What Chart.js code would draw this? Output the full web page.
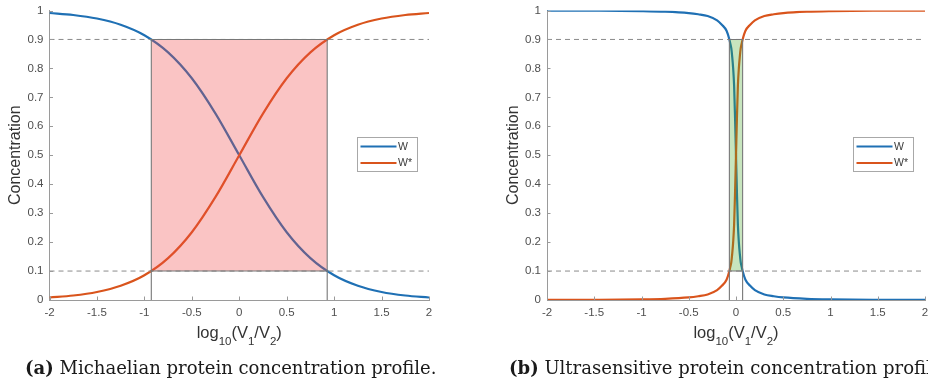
<!DOCTYPE html>
<html><head><meta charset="utf-8">
<script src="https://cdn.jsdelivr.net/npm/chart.js@4/dist/chart.umd.min.js"></script>
<style>
html,body{margin:0;padding:0;background:#fff;width:928px;height:387px;overflow:hidden}
#wrap{position:relative;width:928px;height:387px;overflow:hidden}
canvas{position:absolute;top:0}
#ca{left:0}
#cb{left:460px}
.cap{position:absolute;top:359px;font-family:"DejaVu Serif","Liberation Serif",serif;font-size:17px;white-space:nowrap;color:#1a1a1a;line-height:1}
</style></head><body>
<div id="wrap">
<canvas id="ca" width="460" height="387"></canvas>
<canvas id="cb" width="468" height="387"></canvas>
<div class="cap" id="capA" style="left:25px"><b>(a)</b> Michaelian protein concentration profile.</div>
<div class="cap" id="capB" style="left:509px"><b>(b)</b> Ultrasensitive protein concentration profile.</div>
</div>
<script>
// ---------- data ----------
const xTickValues = [-2, -1.5, -1, -0.5, 0, 0.5, 1, 1.5, 2];
const xTickLabels = ['-2', '-1.5', '-1', '-0.5', '0', '0.5', '1', '1.5', '2'];
const yTickValues = [0, 0.1, 0.2, 0.3, 0.4, 0.5, 0.6, 0.7, 0.8, 0.9, 1];
const yTickLabels = ['0', '0.1', '0.2', '0.3', '0.4', '0.5', '0.6', '0.7', '0.8', '0.9', '1'];
const seriesLabels = ['W', 'W*'];
const levels = [0.1, 0.9];

// (a) Michaelian
const xA = [-2, -1.75, -1.5, -1.25, -1, -0.75, -0.5, -0.25, 0, 0.25, 0.5, 0.75, 1, 1.25, 1.5, 1.75, 2];
const wA = [0.9914, 0.9845, 0.9723, 0.9509, 0.9147, 0.8555, 0.766, 0.644, 0.5, 0.356, 0.234, 0.1445, 0.0853, 0.0491, 0.0277, 0.0155, 0.0086];
const wStarA = [0.0086, 0.0155, 0.0277, 0.0491, 0.0853, 0.1445, 0.234, 0.356, 0.5, 0.644, 0.766, 0.8555, 0.9147, 0.9509, 0.9723, 0.9845, 0.9914];
const bandA = [-0.927, 0.927];

// (b) Ultrasensitive
const xB = [-2, -1.5, -1, -0.75, -0.5, -0.4, -0.3, -0.2, -0.15, -0.1, -0.07, -0.06, -0.05, -0.04, -0.03, -0.02, -0.01, 0, 0.01, 0.02, 0.03, 0.04, 0.05, 0.06, 0.07, 0.1, 0.15, 0.2, 0.3, 0.4, 0.5, 0.75, 1, 1.5, 2];
const wB = [0.9998, 0.9993, 0.9978, 0.9958, 0.991, 0.987, 0.981, 0.966, 0.951, 0.93, 0.9, 0.885, 0.87, 0.84, 0.8, 0.74, 0.63, 0.5, 0.37, 0.26, 0.2, 0.16, 0.13, 0.115, 0.1, 0.07, 0.049, 0.034, 0.019, 0.013, 0.009, 0.0042, 0.0022, 0.0007, 0.0002];
const wStarB = [0.0002, 0.0007, 0.0022, 0.0042, 0.009, 0.013, 0.019, 0.034, 0.049, 0.07, 0.1, 0.115, 0.13, 0.16, 0.2, 0.26, 0.37, 0.5, 0.63, 0.74, 0.8, 0.84, 0.87, 0.885, 0.9, 0.93, 0.951, 0.966, 0.981, 0.987, 0.991, 0.9958, 0.9978, 0.9993, 0.9998];
const bandB = [-0.07, 0.07];

// ---------- styles ----------
const BLUE = '#1f70b4';
const ORANGE = '#d9541c';
const EDGE = '#777777';
const DASH = '#8a8a8a';
const AXIS = '#9a9a9a';
const TICKTXT = '#4f4f4f';
const SANS = '"Liberation Sans", Arial, Helvetica, sans-serif';

const pts = (xs, ys) => xs.map((x, i) => ({x: x, y: ys[i]}));

// legend drawn inside the axes (MATLAB style)
const boxLegend = {
  id: 'boxLegend',
  afterDraw(chart, args, opts) {
    const ctx = chart.ctx;
    const b = opts.box;
    ctx.save();
    ctx.fillStyle = '#ffffff';
    ctx.fillRect(b[0], b[1], b[2] - b[0], b[3] - b[1]);
    ctx.strokeStyle = '#a8a8a8';
    ctx.lineWidth = 1;
    ctx.strokeRect(b[0] + 0.5, b[1] + 0.5, b[2] - b[0] - 1, b[3] - b[1] - 1);
    const items = chart.data.datasets.filter(d => d.inLegend);
    items.forEach((d, i) => {
      const y = b[1] + 9.5 + i * 16.5;
      ctx.strokeStyle = d.borderColor;
      ctx.lineWidth = 2;
      ctx.beginPath();
      ctx.moveTo(b[0] + 3.5, y);
      ctx.lineTo(b[0] + 39.5, y);
      ctx.stroke();
      ctx.fillStyle = '#3a3a3a';
      ctx.font = '10.5px ' + SANS;
      ctx.textBaseline = 'middle';
      ctx.textAlign = 'left';
      ctx.fillText(d.label, b[0] + 41, y + 0.5);
    });
    ctx.restore();
  }
};

// inward tick marks + subscripted x title
const axisExtras = {
  id: 'axisExtras',
  afterDraw(chart, args, opts) {
    const ctx = chart.ctx;
    const xs = chart.scales.x, ys = chart.scales.y;
    const area = chart.chartArea;
    ctx.save();
    ctx.strokeStyle = AXIS;
    ctx.lineWidth = 1;
    ctx.beginPath();
    xs.ticks.forEach(t => {
      const px = Math.round(xs.getPixelForValue(t.value)) + 0.5;
      ctx.moveTo(px, area.bottom);
      ctx.lineTo(px, area.bottom - 3.5);
    });
    ys.ticks.forEach(t => {
      const py = Math.round(ys.getPixelForValue(t.value)) + 0.5;
      ctx.moveTo(area.left, py);
      ctx.lineTo(area.left + 3.5, py);
    });
    ctx.stroke();

    // x-axis title: log10(V1/V2) with subscripts
    const parts = [['log', 0], ['10', 1], ['(V', 0], ['1', 1], ['/V', 0], ['2', 1], [')', 0]];
    const mainF = '16.5px ' + SANS, subF = '11.5px ' + SANS;
    let total = 0;
    parts.forEach(p => { ctx.font = p[1] ? subF : mainF; total += ctx.measureText(p[0]).width; });
    let x = (area.left + area.right) / 2 - total / 2;
    const base = opts.titleBaseline;
    ctx.fillStyle = '#333333';
    ctx.textBaseline = 'alphabetic';
    ctx.textAlign = 'left';
    parts.forEach(p => {
      ctx.font = p[1] ? subF : mainF;
      ctx.fillText(p[0], x, p[1] ? base + 7 : base);
      x += ctx.measureText(p[0]).width;
    });
    ctx.restore();
  }
};

function makeChart(canvasId, xs, w, wStar, band, fillColor, pad, legendBox) {
  const datasets = [
    {label: seriesLabels[0], inLegend: true, data: pts(xs, w), borderColor: BLUE, borderWidth: 2.2,
     pointRadius: 0, cubicInterpolationMode: 'monotone', fill: false, order: 4},
    {label: seriesLabels[1], inLegend: true, data: pts(xs, wStar), borderColor: ORANGE, borderWidth: 2.2,
     pointRadius: 0, cubicInterpolationMode: 'monotone', fill: false, order: 3},
    {label: 'band', data: [{x: band[0], y: levels[1]}, {x: band[1], y: levels[1]}], borderColor: 'rgba(0,0,0,0)',
     borderWidth: 0, pointRadius: 0, backgroundColor: fillColor,
     fill: {target: {value: levels[0]}, above: fillColor, below: fillColor}, order: 2},
    {label: 'dash01', data: [{x: -2, y: levels[0]}, {x: 2, y: levels[0]}], borderColor: DASH, borderWidth: 1,
     borderDash: [5, 4], pointRadius: 0, fill: false, order: 1},
    {label: 'dash09', data: [{x: -2, y: levels[1]}, {x: 2, y: levels[1]}], borderColor: DASH, borderWidth: 1,
     borderDash: [5, 4], pointRadius: 0, fill: false, order: 1},
    {label: 'edges', data: [{x: band[0], y: 0}, {x: band[0], y: levels[1]}, {x: band[1], y: levels[1]}, {x: band[1], y: 0},
      {x: band[1], y: null}, {x: band[0], y: levels[0]}, {x: band[1], y: levels[0]}],
     borderColor: EDGE, borderWidth: 1.1, pointRadius: 0, fill: false, spanGaps: false, order: 0}
  ];
  return new Chart(document.getElementById(canvasId), {
    type: 'line',
    data: {datasets: datasets},
    plugins: [boxLegend, axisExtras],
    options: {
      responsive: false, animation: false, devicePixelRatio: 1,
      layout: {padding: pad},
      plugins: {
        legend: {display: false}, tooltip: {enabled: false},
        boxLegend: {box: legendBox},
        axisExtras: {titleBaseline: 338}
      },
      scales: {
        x: {
          type: 'linear', min: -2, max: 2,
          afterBuildTicks: s => { s.ticks = xTickValues.map(v => ({value: v})); },
          afterFit: s => { s.height = 87; s.paddingLeft = 0; s.paddingRight = 0; },
          ticks: {autoSkip: false, maxRotation: 0, padding: 6, color: TICKTXT,
                  font: {family: SANS, size: 11.5},
                  callback: (v, i) => xTickLabels[i]},
          grid: {display: true, drawOnChartArea: false, drawTicks: false},
          border: {display: true, color: AXIS, width: 1}
        },
        y: {
          type: 'linear', min: 0, max: 1,
          afterBuildTicks: s => { s.ticks = yTickValues.map(v => ({value: v})); },
          afterFit: s => { s.width = 49.5; s.paddingTop = 0; s.paddingBottom = 0; },
          ticks: {autoSkip: false, padding: 6, color: TICKTXT,
                  font: {family: SANS, size: 11.5},
                  callback: (v, i) => yTickLabels[i]},
          grid: {display: true, drawOnChartArea: false, drawTicks: false},
          border: {display: true, color: AXIS, width: 1},
          title: {display: true, text: 'Concentration', color: '#333333',
                  font: {family: SANS, size: 16}, padding: {top: 6, bottom: 0}}
        }
      }
    }
  });
}

makeChart('ca', xA, wA, wStarA, bandA, 'rgba(240,70,70,0.32)', {left: 0, right: 31, top: 10.5, bottom: 0}, [357, 137, 418, 172]);
makeChart('cb', xB, wB, wStarB, bandB, 'rgba(70,170,40,0.3)', {left: 37.5, right: 3, top: 10.5, bottom: 0}, [393, 137, 454, 172]);

// fit caption a to its measured width in the reference
(function () {
  const a = document.getElementById('capA');
  const target = 412;
  const fs = 17 * target / a.offsetWidth;
  document.querySelectorAll('.cap').forEach(c => { c.style.fontSize = fs.toFixed(2) + 'px'; });
})();
</script>
</body></html>
